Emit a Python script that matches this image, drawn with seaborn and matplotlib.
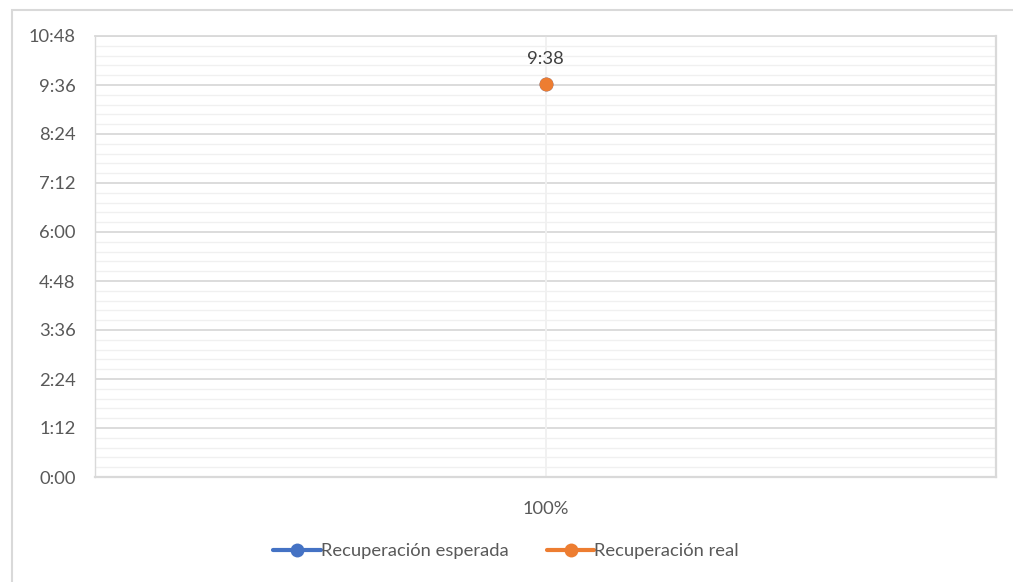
import numpy as np
import pandas as pd
import matplotlib
matplotlib.use("Agg")
import matplotlib.pyplot as plt
import seaborn as sns
from matplotlib.patches import Rectangle
from matplotlib.ticker import MultipleLocator, FuncFormatter

# data (time values as fraction of a day, Excel style)
categorias = ["100%"]
series = ["Recuperación esperada", "Recuperación real"]
esperada = [9 / 24 + 38 / 1440]   # hidden under the orange point
real = [9 / 24 + 38 / 1440]
etiquetas = ["9:38"]
colores = ["#4472C4", "#ED7D31"]

df = pd.DataFrame({
    "cat": categorias * 2,
    "valor": esperada + real,
    "serie": [series[0]] * len(esperada) + [series[1]] * len(real),
})


def fmt_hora(v, pos=None):
    mins = int(round(v * 1440))
    return f"{mins // 60}:{mins % 60:02d}"


sns.set_style("white")
plt.rcParams["font.family"] = ["Lato", "DejaVu Sans"]

fig = plt.figure(figsize=(10.13, 5.82), dpi=100)
ax = fig.add_axes([95 / 1013, 1 - 477 / 582, (996 - 95) / 1013, (477 - 36) / 582])

sns.lineplot(data=df, x="cat", y="valor", hue="serie", hue_order=series,
             palette=colores, marker="o", markersize=10, markeredgewidth=0,
             linewidth=3, ax=ax, legend=True, zorder=5)

ax.set_xlim(-0.5, 0.5)
ax.set_ylim(0, 0.45)
ax.yaxis.set_major_locator(MultipleLocator(0.05))
ax.yaxis.set_minor_locator(MultipleLocator(0.01))
ax.yaxis.set_major_formatter(FuncFormatter(fmt_hora))
ax.grid(axis="y", which="major", color="#d9d9d9", linewidth=1.3, zorder=1)
ax.grid(axis="y", which="minor", color="#f0f0f0", linewidth=1.0, zorder=0)
ax.axvline(0, color="#f0f0f0", linewidth=1.3, zorder=1)
ax.set_axisbelow(True)
ax.tick_params(axis="both", which="both", length=0, labelsize=13.2,
               labelcolor="#595959")
ax.tick_params(axis="y", pad=14)
ax.tick_params(axis="x", pad=17)
ax.set_xlabel("")
ax.set_ylabel("")
for lado in ["left", "right", "bottom", "top"]:
    ax.spines[lado].set_color("#d9d9d9")
ax.spines["left"].set_linewidth(1.0)
ax.spines["right"].set_linewidth(1.6)
ax.spines["bottom"].set_linewidth(1.6)
ax.spines["top"].set_linewidth(1.3)

# data label
for x, v, t in zip(categorias, real, etiquetas):
    ax.annotate(t, (0, v), xytext=(0, 12), textcoords="offset points",
                ha="center", va="bottom", fontsize=13.2, color="#404040")

# legend at the bottom
handles, labels = ax.get_legend_handles_labels()
ax.legend(handles, labels, loc="center", bbox_to_anchor=(506 / 1013, 1 - 551 / 582),
          bbox_transform=fig.transFigure, ncol=2, frameon=False, fontsize=13.2,
          handlelength=2.6, handletextpad=0.0, columnspacing=2.1,
          labelcolor="#595959")

# outer chart border
fig.patches.append(Rectangle((12 / 1013, -0.05), 1.1, 1.05 - 10 / 582,
                             transform=fig.transFigure, fill=False,
                             edgecolor="#d9d9d9", linewidth=1.5))

fig.savefig("out.png", dpi=100)
